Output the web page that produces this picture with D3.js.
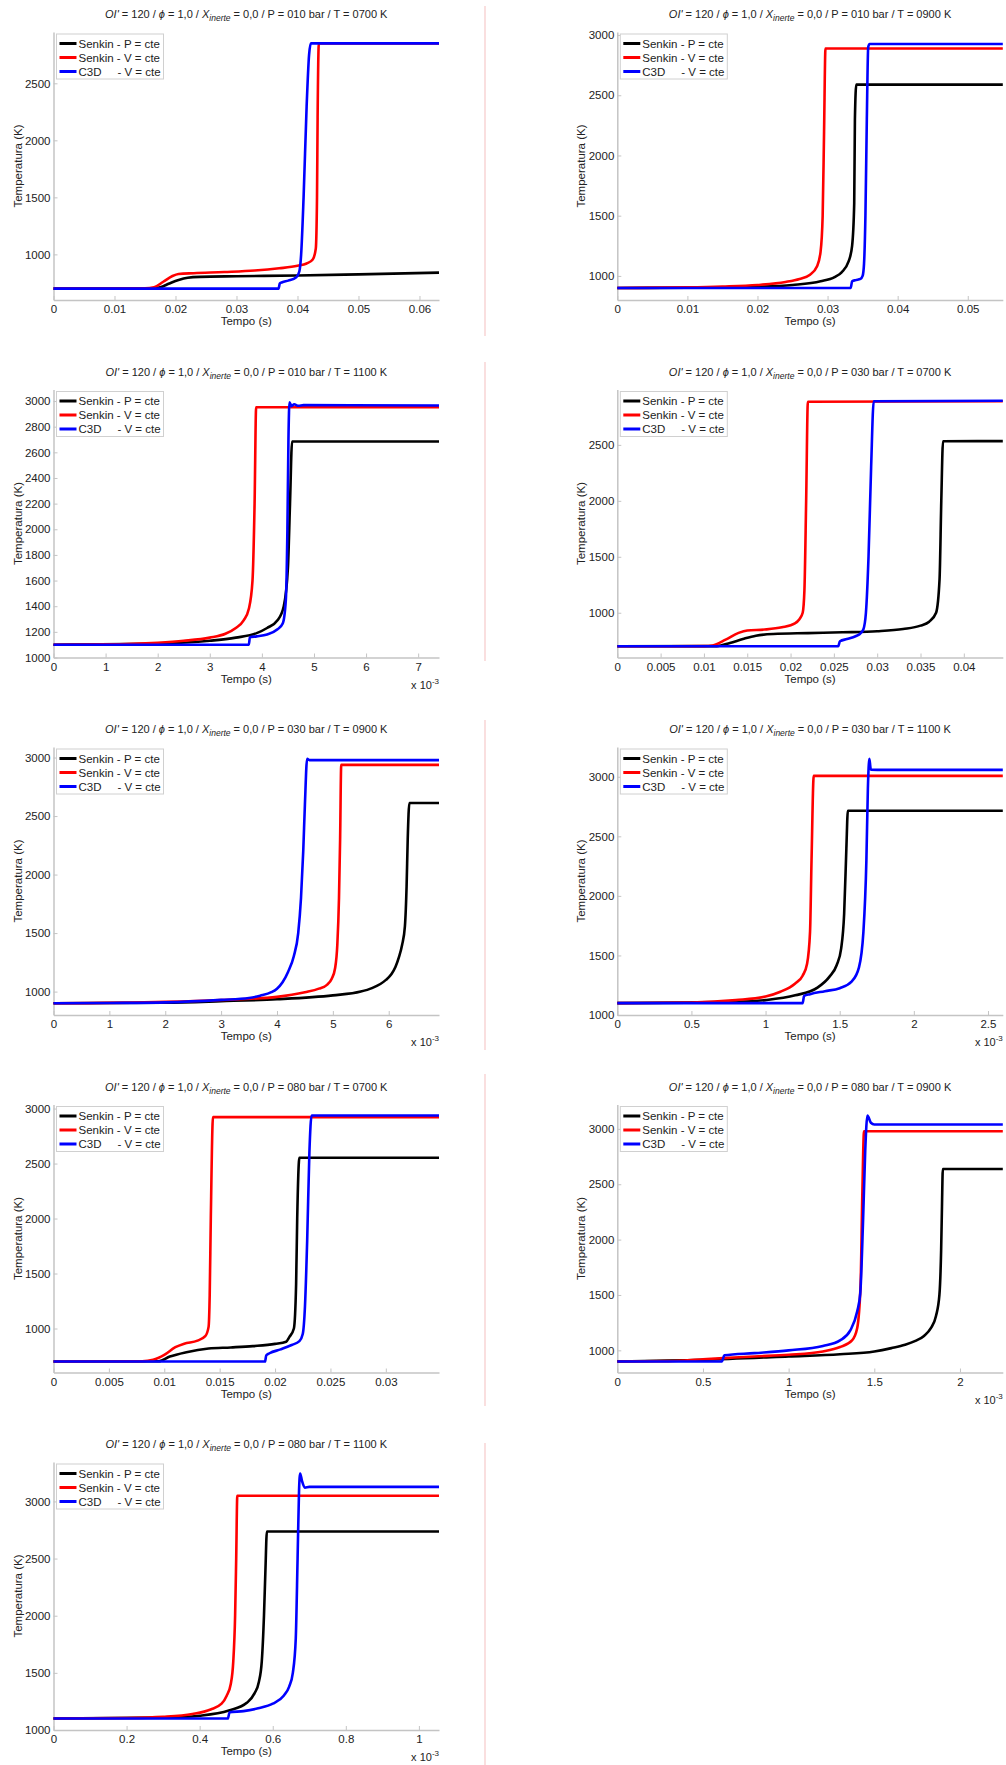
<!DOCTYPE html>
<html>
<head>
<meta charset="utf-8">
<script src="https://cdn.jsdelivr.net/npm/d3@7"></script>
<style>
  body { margin: 0; background: #fff; }
  text { font-family: Arial, "Liberation Sans", sans-serif; fill: #222; }
</style>
</head>
<body>
<div id="chart"></div>
<script>
// panel labels (P in bar, T in K), read from the titles
var titleP = ["010", "010", "010", "030", "030", "030", "080", "080", "080"];
var titleT = ["0700", "0900", "1100", "0700", "0900", "1100", "0700", "0900", "1100"];
var xTickStep = [0.01, 0.01, 1, 0.005, 1, 0.5, 0.005, 0.5, 0.2];
var yTickStep = [500, 500, 200, 500, 500, 500, 500, 500, 500];
var xTimes1e3 = [false, false, true, false, true, true, false, true, true];
var seriesNames = ["Senkin - P = cte", "Senkin - V = cte", "C3D     - V = cte"];

// [tempo, temperatura] -- panels with "x 10^-3" are given in ms
var p1P = [[0,700],[0.016,700],[0.0175,712],[0.019,745],[0.0205,775],[0.022,795],[0.024,803],[0.03,808],[0.04,815],[0.05,825],[0.0632,840]];
var p1V = [[0,700],[0.015,702],[0.0165,712],[0.018,760],[0.0195,810],[0.0205,828],[0.023,835],[0.028,845],[0.033,858],[0.037,878],[0.040,900],[0.0415,920],[0.0425,955],[0.043,1050],[0.0432,1500],[0.0433,2200],[0.0435,2850],[0.0632,2850]];
var p1C = [[0,700],[0.0369,700],[0.0371,745],[0.0375,755],[0.0385,770],[0.0398,800],[0.0403,850],[0.0406,1000],[0.041,1500],[0.0415,2300],[0.0419,2750],[0.0422,2850],[0.0632,2850]];

var p2P = [[0,900],[0.01,902],[0.02,910],[0.025,925],[0.029,955],[0.031,990],[0.032,1030],[0.033,1120],[0.0335,1250],[0.0338,1600],[0.0339,2300],[0.0341,2588],[0.055,2588]];
var p2V = [[0,900],[0.01,905],[0.015,912],[0.02,925],[0.024,950],[0.026,975],[0.0275,1010],[0.0285,1080],[0.029,1200],[0.0293,1500],[0.0295,2200],[0.0297,2888],[0.055,2888]];
var p2C = [[0,900],[0.0333,900],[0.0335,955],[0.034,965],[0.0347,975],[0.035,1000],[0.0352,1100],[0.0354,1500],[0.0356,2300],[0.0358,2900],[0.036,2925],[0.055,2925]];

var p3P = [[0,1100],[2,1108],[3,1130],[3.5,1155],[3.9,1190],[4.1,1230],[4.3,1290],[4.42,1400],[4.5,1700],[4.54,2200],[4.58,2685],[7.4,2685]];
var p3V = [[0,1100],[1,1102],[2,1115],[2.5,1130],[3,1155],[3.3,1185],[3.5,1230],[3.65,1290],[3.75,1380],[3.82,1600],[3.86,2200],[3.89,2952],[7.4,2952]];
var p3C = [[0,1100],[3.75,1100],[3.77,1158],[3.9,1165],[4.1,1180],[4.3,1220],[4.4,1265],[4.46,1450],[4.49,2000],[4.51,2700],[4.53,2990],[4.57,2960],[4.62,2975],[4.7,2963],[4.8,2968],[7.4,2965]];

var p4P = [[0,700],[0.0115,702],[0.013,730],[0.0145,765],[0.016,795],[0.018,810],[0.022,818],[0.026,825],[0.03,835],[0.033,855],[0.035,885],[0.036,920],[0.0368,1000],[0.0372,1300],[0.0374,2000],[0.0376,2532],[0.0445,2534]];
var p4V = [[0,700],[0.01,702],[0.011,708],[0.0125,760],[0.014,820],[0.015,842],[0.017,850],[0.019,870],[0.0205,905],[0.021,940],[0.0214,1000],[0.0216,1200],[0.0218,2000],[0.022,2885],[0.0445,2890]];
var p4C = [[0,700],[0.0255,700],[0.0257,745],[0.0265,765],[0.0275,790],[0.028,810],[0.0284,850],[0.0287,1000],[0.029,1500],[0.0293,2300],[0.0296,2890],[0.0445,2895]];

var p5P = [[0,900],[2,905],[3,918],[4,935],[5,968],[5.5,1000],[5.7,1030],[5.85,1065],[5.95,1100],[6.05,1150],[6.12,1210],[6.18,1290],[6.24,1400],[6.29,1560],[6.32,1900],[6.34,2300],[6.37,2612],[6.9,2612]];
var p5V = [[0,900],[2,912],[3,928],[4,955],[4.5,994],[4.75,1025],[4.9,1060],[4.98,1110],[5.04,1200],[5.08,1400],[5.11,1800],[5.13,2300],[5.15,2937],[6.9,2937]];
var p5C = [[0,900],[1,903],[2,908],[3,929],[3.5,945],[3.7,965],[3.9,995],[4.0,1025],[4.1,1080],[4.2,1170],[4.3,1300],[4.38,1500],[4.43,1800],[4.47,2200],[4.5,2600],[4.54,2990],[4.58,2978],[6.9,2978]];

var p6P = [[0,1100],[0.8,1110],[1.0,1125],[1.2,1165],[1.35,1230],[1.43,1320],[1.48,1420],[1.51,1560],[1.53,1850],[1.545,2400],[1.555,2715],[2.6,2715]];
var p6V = [[0,1100],[0.5,1105],[0.8,1125],[1.0,1155],[1.1,1195],[1.2,1265],[1.25,1330],[1.28,1430],[1.3,1700],[1.31,2300],[1.325,3008],[2.6,3008]];
var p6C = [[0,1100],[1.25,1100],[1.26,1160],[1.3,1175],[1.4,1200],[1.5,1225],[1.58,1280],[1.63,1400],[1.66,1700],[1.68,2300],[1.69,2900],[1.7,3150],[1.71,3060],[1.8,3058],[2.6,3058]];

var p7P = [[0,700],[0.0095,702],[0.0105,745],[0.012,785],[0.014,818],[0.016,828],[0.018,840],[0.02,860],[0.021,880],[0.0213,924],[0.0217,1000],[0.0219,1400],[0.022,2000],[0.0222,2553],[0.0348,2553]];
var p7V = [[0,700],[0.008,702],[0.009,715],[0.01,760],[0.011,830],[0.0118,862],[0.013,890],[0.0137,930],[0.014,1015],[0.0141,1300],[0.0142,2000],[0.0144,2922],[0.0348,2922]];
var p7C = [[0,700],[0.0191,700],[0.0192,755],[0.0195,775],[0.0205,810],[0.0215,850],[0.0222,885],[0.0225,950],[0.0227,1200],[0.0229,1800],[0.0231,2600],[0.0233,2937],[0.0348,2937]];

var p8P = [[0,900],[0.5,915],[1.0,945],[1.3,965],[1.5,990],[1.6,1020],[1.68,1050],[1.74,1085],[1.79,1130],[1.83,1200],[1.86,1310],[1.88,1500],[1.89,1900],[1.895,2300],[1.9,2638],[2.25,2638]];
var p8V = [[0,900],[0.3,903],[0.5,920],[0.62,930],[0.8,945],[1.0,960],[1.2,990],[1.3,1030],[1.37,1090],[1.4,1200],[1.42,1600],[1.43,2400],[1.44,2978],[2.25,2978]];
var p8C = [[0,900],[0.61,900],[0.625,955],[0.8,975],[1.0,1000],[1.2,1040],[1.3,1090],[1.36,1180],[1.4,1350],[1.418,1512],[1.435,2200],[1.447,2800],[1.46,3120],[1.48,3055],[1.5,3040],[2.25,3040]];

var p9P = [[0,1100],[0.3,1108],[0.4,1125],[0.48,1170],[0.53,1240],[0.55,1320],[0.562,1420],[0.57,1600],[0.576,2000],[0.58,2400],[0.584,2737],[1.055,2737]];
var p9V = [[0,1100],[0.2,1105],[0.3,1115],[0.38,1140],[0.43,1180],[0.46,1230],[0.474,1300],[0.485,1400],[0.492,1600],[0.497,2000],[0.5,2500],[0.503,3050],[1.055,3050]];
var p9C = [[0,1100],[0.477,1100],[0.482,1155],[0.52,1165],[0.56,1190],[0.6,1230],[0.63,1300],[0.645,1380],[0.655,1500],[0.663,1800],[0.668,2500],[0.672,3100],[0.675,3245],[0.68,3180],[0.688,3120],[0.7,3127],[1.055,3127]];

var panelSeries = [
  [p1P, p1V, p1C], [p2P, p2V, p2C], [p3P, p3V, p3C],
  [p4P, p4V, p4C], [p5P, p5V, p5C], [p6P, p6V, p6C],
  [p7P, p7V, p7C], [p8P, p8V, p8C], [p9P, p9V, p9C]
];

var colors = ["#000000", "#ff0000", "#0000ff"];
var axisGrey = "#c4c4c4";

// layout
var W = 1006, H = 1765;
var colLeft = [53.5, 617.3], plotW = 385.5, plotH = 268;
var rowTop0 = 32, rowStep = 357.5;

var svg = d3.select("#chart").append("svg")
    .attr("width", W).attr("height", H);

// thin pink separators between the columns
var sepRows = [[6, 336], [362, 661], [720, 1050], [1074, 1406], [1443, 1765]];
sepRows.forEach(function(s) {
  svg.append("line")
      .attr("x1", 485).attr("x2", 485).attr("y1", s[0]).attr("y2", s[1])
      .attr("stroke", "#f6caca").attr("stroke-width", 1.2);
});

function fmt(v) { return String(+v.toFixed(4)); }

panelSeries.forEach(function(series, i) {
  var col = i % 2, row = Math.floor(i / 2);
  var left = colLeft[col], top = rowTop0 + row * rowStep;

  var xMax = d3.max(series, function(s) { return s[s.length - 1][0]; });
  var T0 = series[0][0][1];
  var Tmax = d3.max(series, function(s) { return d3.max(s, function(d) { return d[1]; }); });

  var x = d3.scaleLinear().domain([0, xMax]).range([0, plotW]);
  var y = d3.scaleLinear().domain([T0 - 100, Tmax + 100]).range([plotH, 0]);

  var g = svg.append("g").attr("transform", "translate(" + left + "," + top + ")");

  // title
  var title = g.append("text")
      .attr("x", plotW / 2).attr("y", -14)
      .attr("text-anchor", "middle")
      .style("font-size", "11px");
  title.append("tspan").style("font-style", "italic").text("OI'");
  title.append("tspan").text(" = 120 / ");
  title.append("tspan").style("font-style", "italic").text("ϕ");
  title.append("tspan").text(" = 1,0 / ");
  title.append("tspan").style("font-style", "italic").text("X");
  title.append("tspan").style("font-style", "italic").style("font-size", "8.5px")
      .attr("dy", 3).text("inerte");
  title.append("tspan").attr("dy", -3)
      .text(" = 0,0 / P = " + titleP[i] + " bar / T = " + titleT[i] + " K");

  // axes
  var xt = d3.range(0, xMax + 1e-9, xTickStep[i]);
  var yt = d3.range(1000, y.domain()[1] + 1e-9, yTickStep[i]);

  var xAxis = g.append("g")
      .attr("transform", "translate(0," + plotH + ")")
      .call(d3.axisBottom(x).tickValues(xt).tickFormat(fmt)
          .tickSizeInner(-4).tickSizeOuter(0).tickPadding(5));
  var yAxis = g.append("g")
      .call(d3.axisLeft(y).tickValues(yt).tickFormat(fmt)
          .tickSizeInner(-4).tickSizeOuter(0).tickPadding(3));

  [xAxis, yAxis].forEach(function(a) {
    a.select(".domain").attr("stroke", axisGrey).attr("stroke-width", 1.5);
    a.selectAll(".tick line").attr("stroke", axisGrey).attr("stroke-width", 1);
    a.selectAll(".tick text").style("font-size", "11.5px").attr("fill", "#222")
        .style("font-family", "Arial, 'Liberation Sans', sans-serif");
  });

  g.append("text")
      .attr("x", plotW / 2).attr("y", plotH + 25)
      .attr("text-anchor", "middle")
      .style("font-size", "11.5px")
      .text("Tempo (s)");

  g.append("text")
      .attr("transform", "translate(" + (-32) + "," + (plotH / 2) + ") rotate(-90)")
      .attr("text-anchor", "middle")
      .style("font-size", "11.5px")
      .text("Temperatura (K)");

  if (xTimes1e3[i]) {
    var ex = g.append("text")
        .attr("x", plotW).attr("y", plotH + 31)
        .attr("text-anchor", "end")
        .style("font-size", "11px");
    ex.append("tspan").text("x 10");
    ex.append("tspan").attr("dy", -5).style("font-size", "8px").text("-3");
  }

  // lines
  var line = d3.line()
      .x(function(d) { return x(d[0]); })
      .y(function(d) { return y(d[1]); })
      .curve(d3.curveMonotoneX);

  series.forEach(function(s, k) {
    g.append("path")
        .datum(s)
        .attr("fill", "none")
        .attr("stroke", colors[k])
        .attr("stroke-width", 2.6)
        .attr("stroke-linejoin", "round")
        .attr("d", line);
  });

  // legend
  var lg = g.append("g").attr("transform", "translate(3,2)");
  lg.append("rect")
      .attr("width", 107).attr("height", 45)
      .attr("fill", "#fff").attr("stroke", "#d0d0d0").attr("stroke-width", 1);
  seriesNames.forEach(function(name, k) {
    var yy = 9.5 + k * 14;
    lg.append("line")
        .attr("x1", 3).attr("x2", 20).attr("y1", yy).attr("y2", yy)
        .attr("stroke", colors[k]).attr("stroke-width", 3);
    lg.append("text")
        .attr("x", 22).attr("y", yy + 4)
        .style("font-size", "11.5px")
        .style("white-space", "pre")
        .attr("xml:space", "preserve")
        .text(name);
  });
});
</script>
</body>
</html>
